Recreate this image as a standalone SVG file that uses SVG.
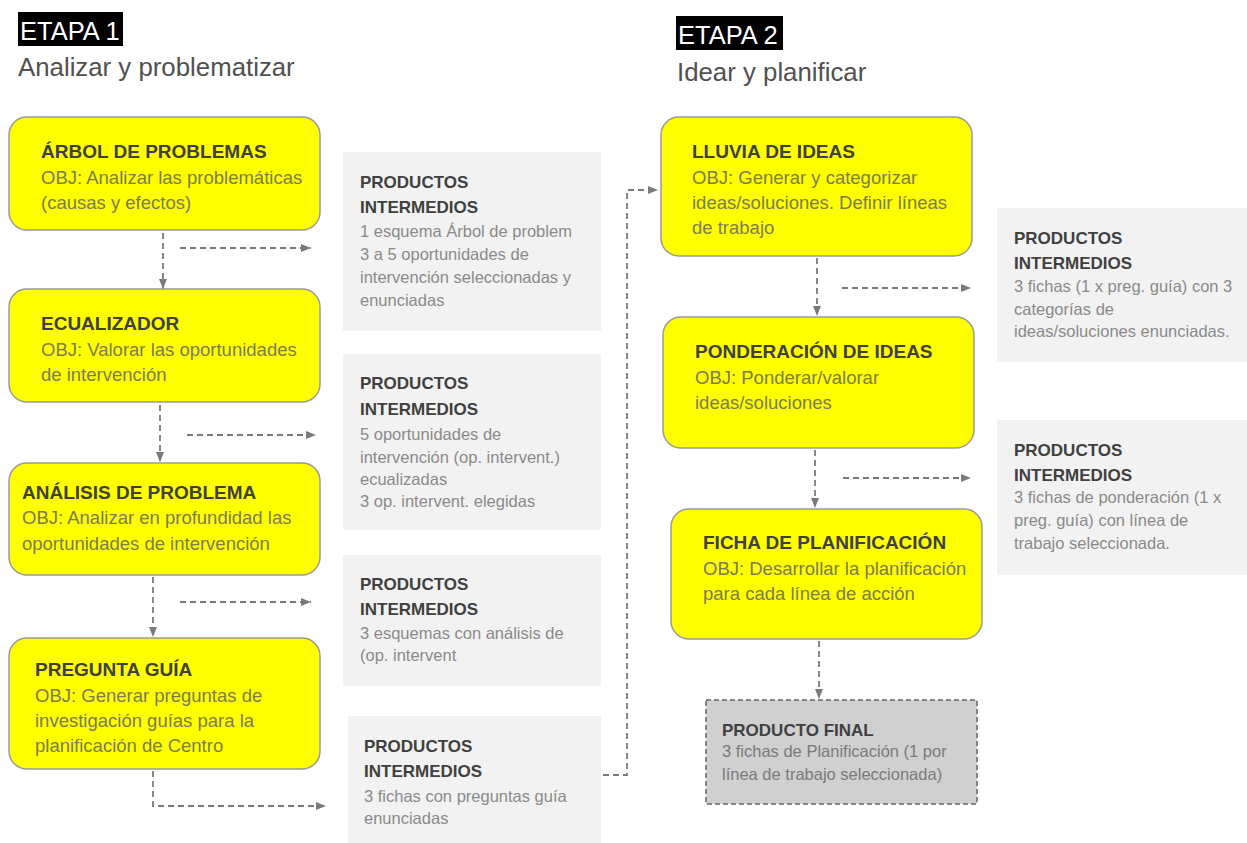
<svg xmlns="http://www.w3.org/2000/svg" width="1247" height="843" viewBox="0 0 1247 843">
<defs>
<style>
.step{fill:#ffff00;stroke:#9a9a9a;stroke-width:1.5}
.prod{fill:#f2f2f2;stroke:none}
.final{fill:#d0d0d0;stroke:#666666;stroke-width:1.5;stroke-dasharray:5 3}
.t{font-family:"Liberation Sans",Arial,sans-serif;}
.h{font-size:19px;font-weight:bold;fill:#404040}
.o{font-size:18.5px;fill:#7c7c52}
.ph{font-size:17px;font-weight:bold;fill:#404040}
.pb{font-size:16.5px;fill:#8a8a8a}
.fb{font-size:16.5px;fill:#7a7a7a}
.etapa{font-size:25.5px;fill:#ffffff}
.sub{font-size:25.8px;fill:#505050}
.c{fill:none;stroke:#7a7a7a;stroke-width:1.8;stroke-dasharray:6 4}
</style>
<marker id="ah" markerUnits="userSpaceOnUse" markerWidth="11" markerHeight="9" refX="10" refY="4" orient="auto">
<path d="M0,0 L10,4 L0,8 z" fill="#7a7a7a"/>
</marker>
</defs>
<rect width="1247" height="843" fill="#ffffff"/>

<g id="etapa1">
<rect x="18" y="12" width="105" height="34" fill="#000000"/>
<text class="t etapa" x="20" y="40">ETAPA 1</text>
<text class="t sub" x="18" y="76">Analizar y problematizar</text>
</g>
<g id="etapa2">
<rect x="676" y="16" width="107" height="34" fill="#000000"/>
<text class="t etapa" x="678" y="44">ETAPA 2</text>
<text class="t sub" x="677" y="81">Idear y planificar</text>
</g>

<g id="connectors">
<line class="c" x1="163" y1="233" x2="163" y2="289" marker-end="url(#ah)"/>
<line class="c" x1="180" y1="248" x2="311" y2="248" marker-end="url(#ah)"/>
<line class="c" x1="160" y1="405" x2="160" y2="462" marker-end="url(#ah)"/>
<line class="c" x1="187" y1="435" x2="316" y2="435" marker-end="url(#ah)"/>
<line class="c" x1="153" y1="577" x2="153" y2="637" marker-end="url(#ah)"/>
<line class="c" x1="180" y1="602" x2="311" y2="602" marker-end="url(#ah)"/>
<path class="c" d="M153,771 V806 H326" marker-end="url(#ah)"/>
<path class="c" d="M603,775 H627 V190 H658" marker-end="url(#ah)"/>
<line class="c" x1="817" y1="258" x2="817" y2="316" marker-end="url(#ah)"/>
<line class="c" x1="842" y1="288" x2="971" y2="288" marker-end="url(#ah)"/>
<line class="c" x1="815" y1="450" x2="815" y2="508" marker-end="url(#ah)"/>
<line class="c" x1="843" y1="478" x2="971" y2="478" marker-end="url(#ah)"/>
<line class="c" x1="819" y1="641" x2="819" y2="699" marker-end="url(#ah)"/>
</g>

<g id="arbol">
<rect class="step" x="9" y="117" width="311" height="113" rx="18"/>
<text class="t h" x="41" y="158">ÁRBOL DE PROBLEMAS</text>
<text class="t o" x="41" y="184">OBJ: Analizar las problemáticas</text>
<text class="t o" x="41" y="209">(causas y efectos)</text>
</g>
<g id="ecualizador">
<rect class="step" x="9" y="289" width="311" height="113" rx="18"/>
<text class="t h" x="41" y="330">ECUALIZADOR</text>
<text class="t o" x="41" y="356">OBJ: Valorar las oportunidades</text>
<text class="t o" x="41" y="381">de intervención</text>
</g>
<g id="analisis">
<rect class="step" x="9" y="463" width="311" height="112" rx="18"/>
<text class="t h" x="22" y="499">ANÁLISIS DE PROBLEMA</text>
<text class="t o" x="22" y="524">OBJ: Analizar en profundidad las</text>
<text class="t o" x="22" y="550">oportunidades de intervención</text>
</g>
<g id="pregunta">
<rect class="step" x="9" y="638" width="311" height="131" rx="18"/>
<text class="t h" x="35" y="676">PREGUNTA GUÍA</text>
<text class="t o" x="35" y="702">OBJ: Generar preguntas de</text>
<text class="t o" x="35" y="727">investigación guías para la</text>
<text class="t o" x="35" y="752">planificación de Centro</text>
</g>

<g id="prod1">
<rect class="prod" x="343" y="152" width="258" height="179"/>
<text class="t ph" x="360" y="188">PRODUCTOS</text>
<text class="t ph" x="360" y="213">INTERMEDIOS</text>
<text class="t pb" x="360" y="237">1 esquema Árbol de problem</text>
<text class="t pb" x="360" y="260">3 a 5 oportunidades de</text>
<text class="t pb" x="360" y="283">intervención seleccionadas y</text>
<text class="t pb" x="360" y="306">enunciadas</text>
</g>
<g id="prod2">
<rect class="prod" x="343" y="354" width="258" height="176"/>
<text class="t ph" x="360" y="389">PRODUCTOS</text>
<text class="t ph" x="360" y="415">INTERMEDIOS</text>
<text class="t pb" x="360" y="440">5 oportunidades de</text>
<text class="t pb" x="360" y="463">intervención (op. intervent.)</text>
<text class="t pb" x="360" y="485">ecualizadas</text>
<text class="t pb" x="360" y="507">3 op. intervent. elegidas</text>
</g>
<g id="prod3">
<rect class="prod" x="343" y="555" width="258" height="131"/>
<text class="t ph" x="360" y="590">PRODUCTOS</text>
<text class="t ph" x="360" y="615">INTERMEDIOS</text>
<text class="t pb" x="360" y="639">3 esquemas con análisis de</text>
<text class="t pb" x="360" y="661">(op. intervent</text>
</g>
<g id="prod4">
<rect class="prod" x="348" y="716" width="253" height="127"/>
<text class="t ph" x="364" y="752">PRODUCTOS</text>
<text class="t ph" x="364" y="777">INTERMEDIOS</text>
<text class="t pb" x="364" y="802">3 fichas con preguntas guía</text>
<text class="t pb" x="364" y="824">enunciadas</text>
</g>

<g id="lluvia">
<rect class="step" x="661" y="117" width="311" height="139" rx="18"/>
<text class="t h" x="692" y="158">LLUVIA DE IDEAS</text>
<text class="t o" x="692" y="184">OBJ: Generar y categorizar</text>
<text class="t o" x="692" y="209">ideas/soluciones. Definir líneas</text>
<text class="t o" x="692" y="234">de trabajo</text>
</g>
<g id="ponderacion">
<rect class="step" x="663" y="317" width="311" height="131" rx="18"/>
<text class="t h" x="695" y="358">PONDERACIÓN DE IDEAS</text>
<text class="t o" x="695" y="384">OBJ: Ponderar/valorar</text>
<text class="t o" x="695" y="409">ideas/soluciones</text>
</g>
<g id="ficha">
<rect class="step" x="671" y="509" width="311" height="130" rx="18"/>
<text class="t h" x="703" y="549">FICHA DE PLANIFICACIÓN</text>
<text class="t o" x="703" y="575">OBJ: Desarrollar la planificación</text>
<text class="t o" x="703" y="600">para cada línea de acción</text>
</g>
<g id="final">
<rect class="final" x="706" y="700" width="271" height="104"/>
<text class="t ph" x="722" y="736">PRODUCTO FINAL</text>
<text class="t fb" x="722" y="757">3 fichas de Planificación (1 por</text>
<text class="t fb" x="722" y="780">línea de trabajo seleccionada)</text>
</g>

<g id="prod5">
<rect class="prod" x="997" y="208" width="250" height="154"/>
<text class="t ph" x="1014" y="244">PRODUCTOS</text>
<text class="t ph" x="1014" y="269">INTERMEDIOS</text>
<text class="t pb" x="1014" y="292">3 fichas (1 x preg. guía) con 3</text>
<text class="t pb" x="1014" y="315">categorías de</text>
<text class="t pb" x="1014" y="337">ideas/soluciones enunciadas.</text>
</g>
<g id="prod6">
<rect class="prod" x="997" y="420" width="250" height="155"/>
<text class="t ph" x="1014" y="456">PRODUCTOS</text>
<text class="t ph" x="1014" y="481">INTERMEDIOS</text>
<text class="t pb" x="1014" y="503">3 fichas de ponderación (1 x</text>
<text class="t pb" x="1014" y="526">preg. guía) con línea de</text>
<text class="t pb" x="1014" y="549">trabajo seleccionada.</text>
</g>
</svg>
